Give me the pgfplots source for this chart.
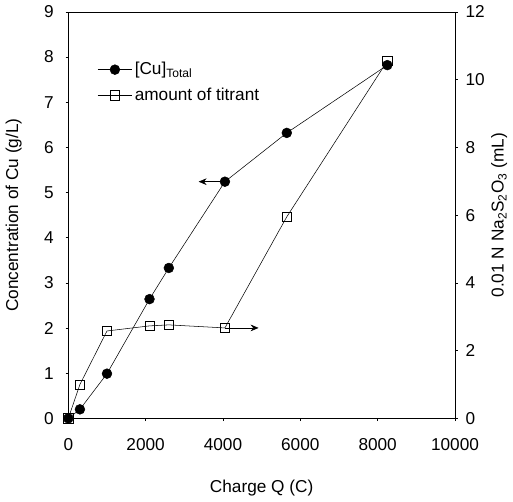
\documentclass[border=0pt]{standalone}
\usepackage{pgfplots}
\pgfplotsset{compat=1.18}
\usepackage{fontspec}
\setmainfont{Liberation Sans}
\usetikzlibrary{arrows.meta}

% Copper concentration (left axis)
\pgfplotstableread{
Q     cu
0     0
300   0.20
1000  0.99
2100  2.64
2600  3.33
4050  5.24
5650  6.32
8250  7.82
}\cudata

% Titrant volume (right axis)
\pgfplotstableread{
Q     ml
0     0
300   1.00
1000  2.58
2100  2.73
2600  2.76
4050  2.67
5650  5.95
8250  10.55
}\titdata

\begin{document}
\fontsize{13}{15}\selectfont
\begin{tikzpicture}
\pgfplotsset{
  every axis/.append style={
    scale only axis, width=292pt, height=307pt,
    xmin=0, xmax=10000, ymin=0,
    /pgf/number format/assume math mode=true,
    tick label style={font=\fontsize{13}{15}\selectfont},
    label style={font=\fontsize{13}{15}\selectfont},
    tick align=outside, major tick length=2pt,
    tick style={black, thin},
    axis line style={black, thin},
  }
}
\begin{axis}[
  xtick pos=bottom, ytick pos=left,
  ymax=9, ytick={0,1,...,9},
  xtick={0,2000,...,10000},
  scaled x ticks=false,
  xticklabel style={yshift=-9pt, /pgf/number format/.cd, fixed, 1000 sep={}},
  yticklabel style={xshift=-4.5pt},
  xlabel={Charge Q (C)},
  ylabel={Concentration of Cu (g/L)},
  xlabel style={yshift=-13pt},
  ylabel style={yshift=8pt},
  clip=false,
]
\addplot[black, thin, mark=*, mark size=3.7pt, mark options={fill=black}]
  table[x=Q, y=cu] {\cudata};
\draw[-{Stealth[length=6pt,width=5pt]}, thin] (axis cs:4050,5.24) -- (axis cs:3370,5.24);
\end{axis}
\begin{axis}[
  axis y line*=right, axis x line=none,
  ymax=12, ytick={0,2,...,12},
  yticklabel style={xshift=1.5pt},
  ylabel={0.01 N Na\textsubscript{2}S\textsubscript{2}O\textsubscript{3} (mL)},
  ylabel style={yshift=4pt},
  clip=false,
  legend style={draw=none, fill=none, at={(0.065,0.89)}, anchor=north west,
    font=\fontsize{13}{15}\selectfont, row sep=4pt,
    legend cell align=left},
  legend image code/.code={
    \draw[#1] (0cm,0cm) -- (0.9cm,0cm);
    \draw[#1, mark repeat=2, mark phase=2] plot coordinates {(0cm,0cm) (0.45cm,0cm) (0.9cm,0cm)};
  },
]
\addlegendimage{black, thin, mark=*, mark size=3.7pt, mark options={fill=black}}
\addlegendentry{[Cu]\textsubscript{Total}}
\addplot[black, thin, mark=square, mark size=3.5pt, mark options={fill=white}]
  table[x=Q, y=ml] {\titdata};
\addlegendentry{amount of titrant}
\draw[-{Stealth[length=6pt,width=5pt]}, thin] (axis cs:4050,2.67) -- (axis cs:4920,2.67);
\end{axis}
\end{tikzpicture}
\end{document}
